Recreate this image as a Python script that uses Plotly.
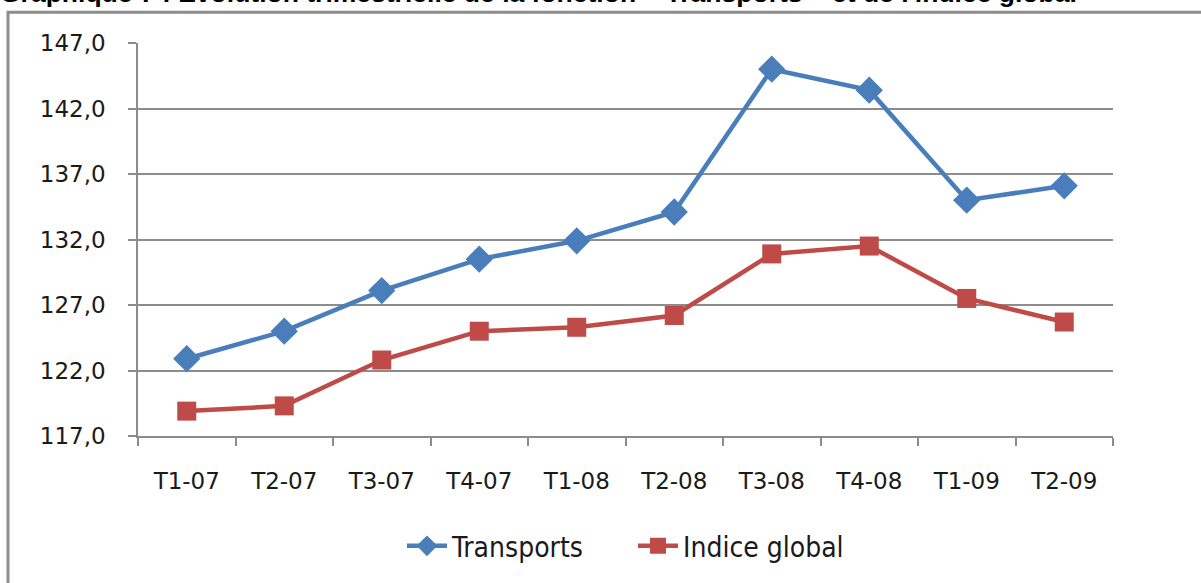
import plotly.graph_objects as go

categories = ["T1-07", "T2-07", "T3-07", "T4-07", "T1-08", "T2-08", "T3-08", "T4-08", "T1-09", "T2-09"]
transports = [122.9, 125.0, 128.1, 130.5, 131.9, 134.1, 145.0, 143.4, 135.0, 136.1]
indice_global = [118.9, 119.3, 122.8, 125.0, 125.3, 126.2, 130.9, 131.5, 127.5, 125.7]
y_ticks = [117, 122, 127, 132, 137, 142, 147]

W, H = 1201, 583
L, R, T, B = 138, 1113, 43, 439

def px(x):
    return (x - L) / (R - L)

def py(y):
    return (B - y) / (B - T)

fig = go.Figure()
fig.add_trace(go.Scatter(
    x=categories, y=transports, name="Transports", mode="lines+markers",
    line=dict(color="#4A7EBB", width=4.5),
    marker=dict(symbol="diamond", size=21, color="#4A7EBB"),
))
fig.add_trace(go.Scatter(
    x=categories, y=indice_global, name="Indice global", mode="lines+markers",
    line=dict(color="#BE4B48", width=4.5),
    marker=dict(symbol="square", size=19, color="#BE4B48"),
))

grid = "#8C8C8C"
tickfont = dict(family="DejaVu Sans, sans-serif", size=23, color="#1a1a1a")
fig.update_layout(
    width=W, height=H,
    margin=dict(l=L, r=W - R, t=T, b=H - B, pad=0),
    paper_bgcolor="white", plot_bgcolor="white",
    separators=", ",
    showlegend=True,
    legend=dict(orientation="h", x=px(633), xanchor="center", y=py(550), yanchor="middle",
                font=dict(family="DejaVu Sans Condensed, DejaVu Sans, sans-serif", size=28, color="#1a1a1a"),
                itemwidth=40, entrywidth=176, entrywidthmode="pixels",
                tracegroupgap=0, bgcolor="rgba(0,0,0,0)"),
    xaxis=dict(
        type="category", range=[-0.5, 9.5], tickson="boundaries", ticks="outside", ticklen=8,
        tickcolor=grid, tickwidth=1.5, showline=True, linecolor=grid, linewidth=1.5,
        showgrid=False, tickfont=tickfont, ticklabelstandoff=24, fixedrange=True,
    ),
    yaxis=dict(
        range=[117, 147], tickvals=y_ticks, tickformat=".1f", ticks="outside", ticklen=8,
        tickcolor=grid, tickwidth=1.5, showline=True, linecolor=grid, linewidth=1.5,
        showgrid=True, gridcolor=grid, gridwidth=1.5, zeroline=False,
        tickfont=tickfont, ticklabelstandoff=18, fixedrange=True,
    ),
    shapes=[dict(type="rect", xref="paper", yref="paper",
                 x0=px(8), x1=px(1215), y0=py(600), y1=py(12),
                 line=dict(color="#8C8C8C", width=3), fillcolor="rgba(0,0,0,0)", layer="below")],
    annotations=[dict(
        text="<b>Graphique 7 : Evolution trimestrielle de la fonction « Transports » et de l'indice global</b>",
        xref="paper", yref="paper", x=px(-2), y=py(-7), xanchor="left", yanchor="middle",
        showarrow=False, font=dict(family="Liberation Sans, Arial, sans-serif", size=26.5, color="black"),
    )],
)

fig.write_html("out.html", config=dict(displayModeBar=False),
               post_script="document.body.style.margin='0';document.body.style.overflow='hidden';")
